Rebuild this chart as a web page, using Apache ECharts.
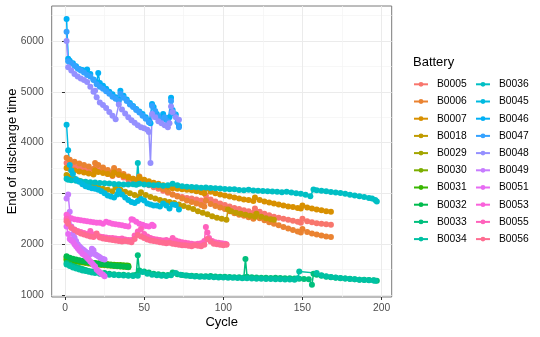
<!DOCTYPE html>
<html><head><meta charset="utf-8">
<script src="https://cdn.jsdelivr.net/npm/echarts@6/dist/echarts.min.js"></script>
<style>html,body{margin:0;padding:0;background:#fff}#c{width:540px;height:337px}</style>
</head><body><div id="c"></div>
<script>
const batteries = ['B0005','B0006','B0007','B0018','B0029','B0030','B0031','B0032','B0033','B0034','B0036','B0045','B0046','B0047','B0048','B0049','B0051','B0053','B0055','B0056'];
const colors = ['#F8766D','#EA8331','#D89000','#C09B00','#A3A500','#7CAE00','#39B600','#00BB4E','#00BF7D','#00C1A3','#00BFC4','#00BAE0','#00B0F6','#35A2FF','#9590FF','#C77CFF','#E76BF3','#FA62DB','#FF62BC','#FF6C91'];
const xTicks = [0,50,100,150,200];
const yTicks = [1000,2000,3000,4000,5000,6000];

const B0005 = [[1,3600],[3,3570],[6,3530],[9,3500],[12,3470],[15,3440],[18,3400],[19,3500],[21,3460],[24,3420],[27,3380],[30,3340],[31,3410],[34,3360],[37,3310],[40,3270],[43,3230],[46,3190],[47,3260],[50,3200],[53,3160],[56,3120],[59,3090],[62,3050],[65,3010],[68,2980],[71,2950],[74,2930],[77,2910],[80,2900],[83,2880],[86,2860],[88,2840],[89,2960],[92,2880],[95,2840],[98,2800],[101,2770],[104,2740],[107,2710],[110,2690],[113,2670],[116,2650],[119,2620],[120,2700],[123,2640],[126,2600],[129,2570],[132,2540],[135,2520],[138,2500],[141,2480],[144,2460],[147,2440],[149,2420],[150,2500],[153,2450],[156,2430],[159,2410],[162,2400],[165,2390],[168,2380]];
const B0006 = [[1,3700],[3,3660],[6,3620],[9,3590],[12,3560],[15,3530],[18,3480],[19,3600],[21,3560],[24,3510],[27,3460],[30,3420],[31,3500],[34,3440],[37,3380],[40,3330],[43,3290],[46,3250],[47,3330],[50,3260],[53,3210],[56,3170],[59,3130],[62,3080],[65,3030],[68,2980],[71,2940],[74,2900],[77,2860],[80,2830],[83,2800],[86,2770],[88,2740],[89,2860],[92,2790],[95,2750],[98,2720],[101,2690],[104,2650],[107,2610],[110,2580],[113,2560],[116,2530],[119,2500],[120,2580],[123,2510],[126,2470],[129,2430],[132,2400],[135,2370],[138,2340],[141,2310],[144,2280],[147,2250],[149,2230],[150,2300],[153,2240],[156,2210],[159,2190],[162,2170],[165,2150],[168,2140]];
const B0007 = [[1,3500],[3,3480],[6,3450],[9,3430],[12,3410],[15,3390],[18,3370],[19,3450],[21,3420],[24,3400],[27,3380],[30,3350],[31,3410],[34,3370],[37,3340],[40,3310],[43,3290],[46,3260],[47,3310],[50,3270],[53,3240],[56,3210],[59,3190],[62,3160],[65,3130],[68,3100],[71,3090],[74,3080],[77,3070],[80,3060],[83,3040],[86,3020],[88,3000],[89,3090],[92,3030],[95,3000],[98,2980],[101,2960],[104,2940],[107,2920],[110,2900],[113,2880],[116,2870],[119,2850],[120,2920],[123,2870],[126,2840],[129,2820],[132,2800],[135,2780],[138,2760],[141,2740],[144,2730],[147,2710],[149,2700],[150,2760],[153,2720],[156,2700],[159,2680],[162,2670],[165,2650],[168,2640]];
const B0018 = [[1,3360],[3,3330],[6,3290],[9,3250],[12,3220],[15,3190],[18,3150],[21,3120],[24,3090],[27,3070],[30,3040],[32,3120],[35,3070],[38,3030],[41,3000],[44,2970],[47,2940],[48,3020],[51,2970],[54,2930],[57,2900],[60,2870],[63,2850],[66,2830],[69,2810],[72,2780],[75,2750],[78,2720],[81,2690],[84,2650],[87,2620],[90,2590],[93,2550],[96,2520],[99,2500],[102,2480],[103,2680],[105,2650],[108,2620],[111,2600],[114,2580],[117,2560],[120,2540],[121,2600],[124,2540],[127,2510],[130,2490],[132,2480]];
const B0029 = [[1,1740],[3,1720],[5,1700],[7,1690],[9,1675],[11,1665],[13,1650],[15,1640],[17,1630],[19,1625],[21,1615],[23,1610],[25,1600],[27,1600],[29,1590],[31,1585],[33,1580],[35,1575],[37,1570],[39,1560],[40,1555]];
const B0030 = [[1,1710],[3,1690],[5,1675],[7,1660],[9,1650],[11,1640],[13,1630],[15,1620],[17,1610],[19,1600],[21,1595],[23,1590],[25,1585],[27,1580],[29,1575],[31,1570],[33,1565],[35,1560],[37,1555],[39,1550],[40,1545]];
const B0031 = [[1,1690],[3,1680],[5,1670],[7,1665],[9,1660],[11,1650],[13,1645],[15,1640],[17,1630],[19,1625],[21,1620],[23,1615],[25,1610],[27,1605],[29,1600],[31,1595],[33,1590],[35,1590],[37,1585],[39,1580],[40,1575]];
const B0032 = [[1,1760],[3,1735],[5,1715],[7,1700],[9,1685],[11,1670],[13,1660],[15,1645],[17,1635],[19,1625],[21,1615],[23,1605],[25,1600],[27,1590],[29,1585],[31,1575],[33,1570],[35,1565],[37,1560],[39,1555],[40,1550]];
const B0033 = [[1,1630],[3,1600],[5,1570],[7,1550],[9,1530],[11,1510],[13,1490],[15,1470],[17,1460],[19,1450],[22,1440],[25,1430],[28,1420],[31,1410],[34,1400],[37,1400],[40,1390],[43,1390],[45,1400],[46,1780],[47,1480],[50,1460],[53,1440],[56,1420],[59,1410],[62,1400],[65,1395],[68,1440],[71,1410],[74,1395],[77,1385],[80,1380],[83,1375],[86,1370],[89,1370],[92,1375],[95,1365],[98,1360],[101,1360],[104,1355],[107,1350],[110,1350],[113,1345],[114,1710],[115,1360],[118,1350],[121,1345],[124,1340],[127,1340],[130,1335],[133,1340],[136,1335],[139,1330],[142,1330],[145,1325],[148,1320],[151,1315],[154,1310],[156,1200],[157,1420],[159,1400],[162,1380],[165,1360],[168,1350],[171,1340],[174,1330],[177,1325],[180,1320],[183,1310],[186,1300],[189,1300],[192,1295],[195,1290],[197,1280]];
const B0034 = [[1,1600],[3,1570],[5,1540],[7,1520],[9,1500],[11,1480],[13,1470],[15,1455],[17,1440],[19,1430],[22,1420],[25,1410],[28,1400],[31,1395],[34,1390],[37,1385],[40,1380],[43,1375],[46,1380],[49,1450],[52,1420],[55,1400],[58,1390],[61,1380],[64,1375],[67,1390],[70,1430],[73,1400],[76,1385],[79,1375],[82,1365],[85,1360],[88,1360],[91,1355],[94,1350],[97,1345],[100,1345],[103,1340],[106,1340],[109,1335],[112,1330],[115,1330],[118,1325],[121,1320],[124,1320],[127,1315],[130,1315],[133,1310],[136,1310],[139,1305],[142,1305],[145,1300],[147,1330],[148,1460],[159,1430],[162,1390],[165,1370],[168,1355],[171,1345],[174,1335],[177,1325],[180,1315],[183,1310],[186,1300],[189,1295],[192,1290],[195,1285],[196,1280]];
const B0036 = [[1,3290],[2,3270],[4,3260],[7,3250],[10,3240],[13,3230],[16,3220],[19,3215],[22,3205],[25,3200],[28,3195],[31,3185],[34,3180],[37,3175],[40,3175],[43,3180],[45,3170],[46,3600],[47,3190],[50,3175],[53,3170],[56,3160],[59,3165],[62,3150],[65,3160],[68,3190],[71,3160],[74,3140],[77,3130],[80,3125],[83,3120],[86,3110],[89,3115],[92,3105],[95,3100],[98,3095],[101,3085],[104,3080],[107,3080],[110,3065],[113,3060],[116,3070],[119,3055],[122,3050],[125,3045],[128,3040],[131,3035],[134,3030],[137,3020],[140,3030],[143,3015],[146,3000],[149,2990],[152,2975],[155,2945],[157,3075],[159,3060],[162,3050],[165,3040],[168,3025],[171,3015],[174,3005],[177,2990],[180,2975],[183,2960],[186,2945],[189,2930],[192,2910],[194,2900],[196,2870],[197,2840]];
const B0045 = [[1,4350],[2,3850],[3,3560],[4,3450],[5,3380],[7,3280],[9,3230],[11,3180],[13,3140],[15,3120],[17,3100],[19,3090],[21,3070],[23,3040],[25,3000],[27,2960],[29,2940],[31,2920],[33,2980],[34,3050],[36,2980],[38,2920],[40,2870],[42,2830],[44,2810],[46,2850],[48,2890],[50,2860],[52,2800],[54,2780],[56,2760],[58,2760],[60,2740],[62,2800],[64,2760],[66,2700],[68,2780],[70,2770],[72,2680]];
const B0046 = [[1,6430],[2,5650],[3,5610],[5,5560],[7,5500],[9,5450],[11,5430],[13,5400],[14,5440],[16,5350],[18,5240],[20,5190],[21,5370],[22,5170],[24,5120],[26,5060],[28,5000],[30,4950],[32,4890],[34,4850],[35,5020],[37,4920],[39,4850],[41,4780],[43,4720],[45,4660],[47,4610],[49,4560],[51,4500],[53,4430],[54,4380],[55,4760],[56,4700],[58,4560],[60,4500],[62,4560],[64,4450],[66,4500],[67,4880],[68,4640],[70,4550],[72,4330]];
const B0047 = [[1,6180],[2,5600],[4,5560],[6,5510],[8,5460],[10,5420],[12,5380],[14,5330],[16,5300],[18,5230],[20,5150],[22,5100],[24,5060],[26,5010],[28,4960],[30,4900],[32,4860],[34,4820],[35,4960],[37,4880],[39,4820],[41,4750],[43,4700],[45,4640],[47,4590],[49,4530],[51,4470],[53,4400],[55,4720],[57,4620],[59,4520],[61,4440],[63,4500],[65,4420],[67,4820],[69,4560],[71,4400],[72,4300]];
const B0048 = [[1,6000],[2,5480],[4,5420],[6,5350],[8,5300],[10,5260],[12,5230],[14,5190],[16,5100],[18,5000],[19,5020],[20,4890],[22,4790],[24,4740],[26,4680],[28,4600],[30,4530],[32,4460],[34,4750],[36,4650],[38,4570],[40,4500],[42,4440],[44,4390],[46,4340],[48,4300],[50,4280],[52,4250],[53,4210],[54,3600],[55,4560],[57,4500],[59,4420],[61,4380],[63,4340],[65,4300],[66,4380],[67,4710],[68,4600],[70,4500],[72,4450]];
const B0049 = [[1,2900],[2,2980],[3,2640],[4,2350],[5,2200],[6,2130],[7,2060],[8,2000],[9,1960],[10,1930],[11,1900],[12,1880],[13,1850],[14,1830],[15,1820],[16,1800],[17,1910],[18,1880],[19,1800],[20,1780],[21,1760],[22,1740],[23,1720],[24,1710],[25,1700]];
const B0051 = [[1,2350],[2,2200],[3,2100],[4,2070],[5,2050],[6,2000],[7,1960],[8,1920],[9,1880],[10,1850],[11,1810],[12,1790],[13,1760],[14,1730],[15,1700],[16,1660],[17,1630],[18,1590],[19,1560],[20,1500],[21,1470],[22,1440],[23,1420],[24,1400],[25,1370]];
const B0053 = [[1,2580],[2,2540],[4,2510],[6,2490],[8,2480],[10,2470],[12,2460],[14,2450],[16,2440],[18,2430],[20,2420],[22,2420],[24,2400],[26,2440],[28,2420],[30,2400],[32,2390],[34,2380],[36,2370],[38,2360],[40,2350],[42,2490],[43,2480],[45,2440],[47,2400],[49,2380],[51,2360],[53,2350],[55,2380],[56,2360]];
const B0055 = [[1,2500],[2,2440],[4,2340],[6,2290],[8,2260],[10,2240],[12,2220],[14,2200],[16,2260],[18,2190],[20,2170],[22,2150],[24,2140],[26,2130],[28,2120],[30,2120],[32,2110],[34,2100],[36,2110],[38,2090],[40,2080],[42,2080],[44,2170],[46,2250],[48,2300],[50,2200],[52,2150],[54,2120],[56,2100],[58,2090],[60,2080],[62,2070],[64,2080],[66,2060],[68,2120],[70,2070],[72,2050],[74,2040],[76,2030],[78,2020],[80,2010],[82,2000],[84,2010],[86,2020],[88,2060],[89,2340],[90,2230],[91,2120],[93,2060],[95,2040],[97,2030],[99,2020],[101,2010],[102,2000]];
const B0056 = [[1,2450],[2,2400],[4,2320],[6,2280],[8,2240],[10,2210],[12,2190],[14,2170],[16,2150],[18,2140],[20,2210],[22,2130],[24,2110],[26,2100],[28,2090],[30,2080],[32,2070],[34,2060],[36,2050],[38,2060],[40,2050],[42,2040],[44,2100],[46,2180],[48,2150],[50,2120],[52,2090],[54,2070],[56,2060],[58,2050],[60,2040],[62,2030],[64,2020],[66,2030],[68,2010],[70,2000],[72,1990],[74,1980],[76,1980],[78,1970],[80,1960],[82,1980],[84,1970],[86,1960],[88,1990],[90,2100],[92,2050],[94,2010],[96,2000],[98,1990],[100,1980],[102,1990]];

const seriesValues = {B0005,B0006,B0007,B0018,B0029,B0030,B0031,B0032,B0033,B0034,B0036,B0045,B0046,B0047,B0048,B0049,B0051,B0053,B0055,B0056};

const FONT = '"Liberation Sans", Arial, Helvetica, sans-serif';
const plain = v => String(v);
const chart = echarts.init(document.getElementById('c'), null, {renderer: 'canvas'});
chart.setOption({
  animation: false,
  backgroundColor: '#fff',
  textStyle: {fontFamily: FONT},
  title: {text: 'Battery', left: 413, top: 56, padding: 0,
    textStyle: {fontSize: 13, fontWeight: 'normal', color: '#000', fontFamily: FONT}},
  legend: {
    orient: 'vertical', left: 413, top: 78.3, height: 170, padding: 0,
    itemWidth: 14, itemHeight: 6, itemGap: 5.2, selectedMode: false,
    data: batteries,
    textStyle: {fontSize: 10.3, color: '#000', fontFamily: FONT, lineHeight: 12, padding: [0, 3, 0, 4]}
  },
  grid: {left: 51.7, right: 148.3, top: 6, bottom: 40, show: true, borderColor: '#7a7a7a', borderWidth: 1,
    backgroundColor: 'transparent', containLabel: false, outerBoundsMode: 'none'},
  xAxis: {
    type: 'value', min: -8.4, max: 206.4,
    name: 'Cycle', nameLocation: 'middle', nameGap: 19, nameMoveOverlap: false,
    nameTextStyle: {color: '#000', fontSize: 13, fontFamily: FONT},
    axisLine: {show: false},
    axisTick: {show: true, length: 3, lineStyle: {color: '#333'}, customValues: xTicks},
    axisLabel: {customValues: xTicks, formatter: plain, color: '#4D4D4D', fontSize: 10.3, margin: 6, fontFamily: FONT},
    splitLine: {show: true, lineStyle: {color: '#EBEBEB', width: 1}},
    minorTick: {show: false, splitNumber: 2},
    minorSplitLine: {show: true, lineStyle: {color: '#F3F3F3', width: 0.7}}
  },
  yAxis: {
    type: 'value', min: 960, max: 6688,
    name: 'End of discharge time', nameLocation: 'middle', nameGap: 33, nameMoveOverlap: false,
    nameTextStyle: {color: '#000', fontSize: 13, fontFamily: FONT},
    axisLine: {show: false},
    axisTick: {show: true, length: 3, lineStyle: {color: '#333'}, customValues: yTicks},
    axisLabel: {customValues: yTicks, formatter: plain, color: '#4D4D4D', fontSize: 10.3, margin: 8, fontFamily: FONT},
    splitLine: {show: true, lineStyle: {color: '#EBEBEB', width: 1}},
    minorTick: {show: false, splitNumber: 2},
    minorSplitLine: {show: true, lineStyle: {color: '#F3F3F3', width: 0.7}}
  },
  series: batteries.map((b, i) => ({
    type: 'line', name: b, data: seriesValues[b],
    symbol: 'circle', symbolSize: 6, showSymbol: true,
    lineStyle: {width: 1.5, color: colors[i]},
    itemStyle: {color: colors[i]},
    emphasis: {disabled: true}, silent: true
  }))
});
</script></body></html>
